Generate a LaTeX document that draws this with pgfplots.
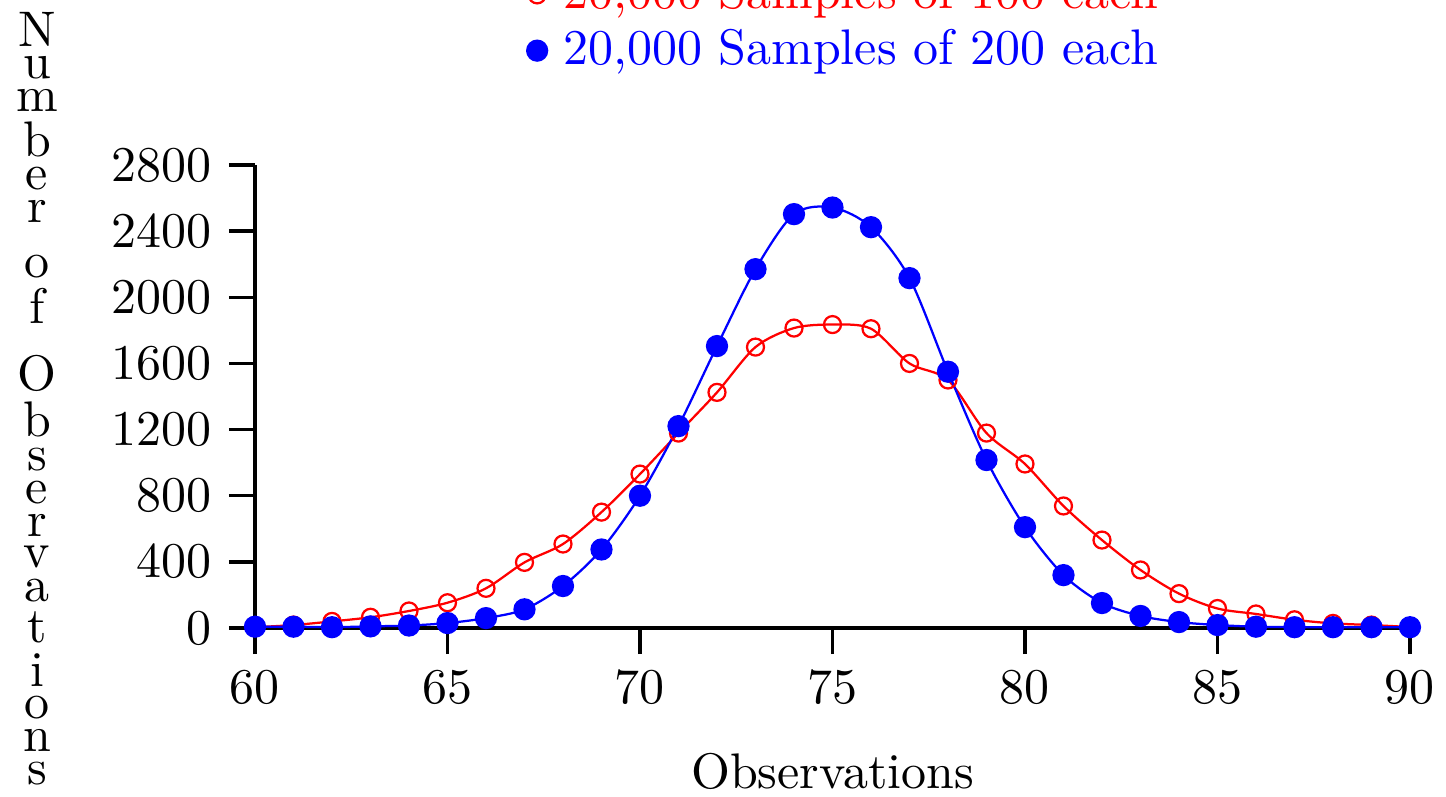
\documentclass[border=0pt]{standalone}
\usepackage{pgfplots}
\pgfplotsset{compat=1.18}
\def\L#1{\hbox to 12pt{\hss#1\hss}}
\def\Sp{\hbox to 12pt{\hss\rule{0pt}{2.4pt}\hss}}
\begin{document}
\begin{tikzpicture}
\begin{axis}[
  name=ax,
  scale only axis,
  width=231pt, height=92.6pt,
  xmin=60, xmax=90, ymin=0, ymax=2800,
  axis x line=bottom, axis y line=left,
  axis line style={-, line width=0.7pt},
  tick style={black, line width=0.7pt},
  tick align=outside,
  major tick length=5.2pt,
  xtick={60,65,...,90},
  ytick={0,400,...,2800},
  minor tick num=0,
  /pgf/number format/1000 sep={},
  xlabel={Observations},
  xlabel style={at={(axis description cs:0.5,0)}, anchor=base, yshift=-32pt},
  ylabel={\vbox{\baselineskip=0pt\lineskip=2.04pt\lineskiplimit=0pt
    \L{N}\L{u}\L{m}\L{b}\L{e}\L{r}\Sp\L{o}\L{f}\Sp\L{O}\L{b}\L{s}\L{e}\L{r}\L{v}\L{a}\L{t}\L{i}\L{o}\L{n}\L{s}}},
  ylabel style={at={(axis description cs:-0.1887,0.5)}, anchor=center, rotate=-90, yshift=-0.4pt},
  legend style={at={(axis description cs:0.5,1)}, anchor=south, draw=none, fill=none, yshift=14.4pt, xshift=3pt, row sep=-1.4pt},
  legend image code/.code={\draw[#1] plot[only marks] coordinates {(0cm,0cm)}; \path[draw=none,fill=none] (-2pt,0pt) -- (3.2pt,0pt);},
  legend cell align=left,
]
\addplot[red, line width=0.45pt, smooth, mark=o, mark size=1.7pt, mark options={line width=0.45pt, solid}] coordinates {
(60,5) (61,18) (62,40) (63,65) (64,103) (65,153) (66,240) (67,397) (68,508) (69,701)
(70,931) (71,1179) (72,1425) (73,1699) (74,1814) (75,1835) (76,1810) (77,1600) (78,1500) (79,1179)
(80,992) (81,738) (82,532) (83,351) (84,208) (85,118) (86,85) (87,50) (88,28) (89,18) (90,6)};
\addlegendentry{\textcolor{red}{20,000 Samples of 100 each}}
\addplot[blue, line width=0.45pt, smooth, mark=*, mark size=2pt, mark options={fill=blue, solid}] coordinates {
(60,8) (61,8) (62,5) (63,10) (64,15) (65,30) (66,60) (67,113) (68,254) (69,475)
(70,800) (71,1221) (72,1705) (73,2170) (74,2503) (75,2543) (76,2424) (77,2116) (78,1550) (79,1016)
(80,610) (81,320) (82,151) (83,73) (84,36) (85,18) (86,8) (87,5) (88,5) (89,5) (90,5)};
\addlegendentry{\textcolor{blue}{20,000 Samples of 200 each}}
\end{axis}
\pgfresetboundingbox
\path[use as bounding box] ([shift={(-51pt,-33.6pt)}]ax.south west) rectangle ([shift={(7.2pt,33pt)}]ax.north east);
\end{tikzpicture}
\end{document}
